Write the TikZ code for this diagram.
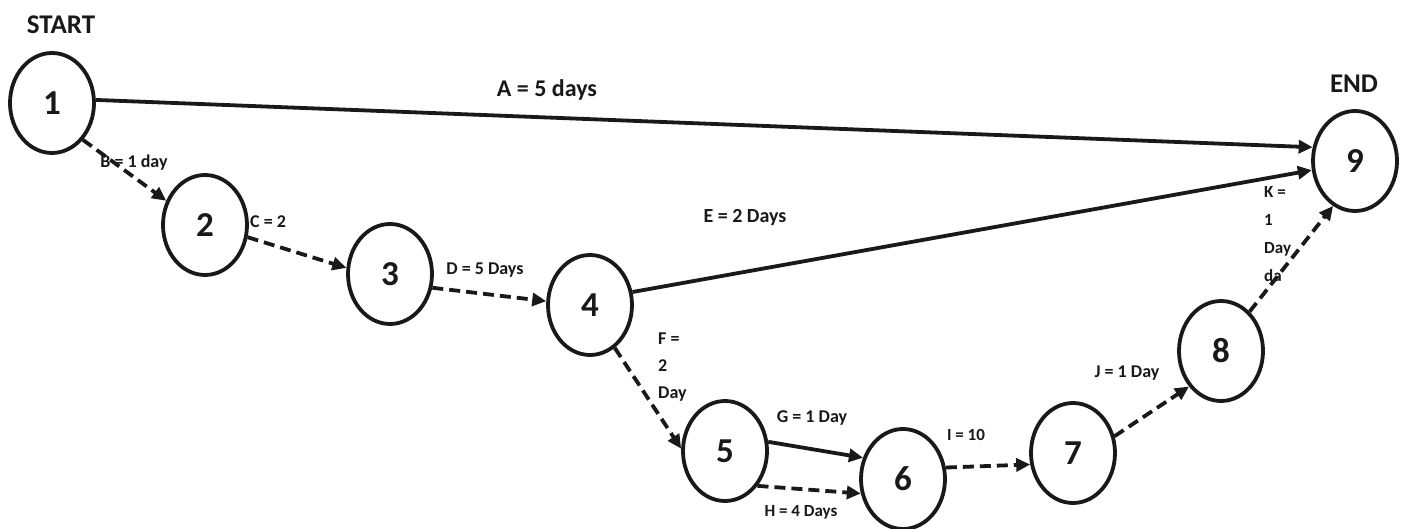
\documentclass[tikz,border=0pt]{standalone}
\usepackage{fontspec}
\setmainfont{Carlito}
\usetikzlibrary{shapes.geometric,arrows.meta}
\begin{document}
\begin{tikzpicture}[x=1pt,y=-1pt,
  evt/.style={ellipse,draw=black!90,line width=3.8pt,minimum width=84pt,minimum height=100pt,inner sep=0pt,font=\fontsize{35}{40}\selectfont\bfseries,text=black!90},
  act/.style={line width=3.8pt,draw=black!90,-{Triangle[length=14pt,width=13pt]}},
  dact/.style={act,dash pattern=on 11pt off 6pt},
  lbl/.style={inner sep=0pt,font=\fontsize{18}{21}\selectfont\bfseries,text=black!90},
  ttl/.style={inner sep=0pt,font=\fontsize{27}{30}\selectfont\bfseries,text=black!90}]
\useasboundingbox[fill=white] (0,0) rectangle (1406,529);
% events
\node[evt] (n1) at (52,103) {1};
\node[evt] (n2) at (205,225) {2};
\node[evt] (n3) at (390,274) {3};
\node[evt] (n4) at (590,305) {4};
\node[evt] (n5) at (725,451) {5};
\node[evt] (n6) at (903,479) {6};
\node[evt] (n7) at (1073,453) {7};
\node[evt] (n8) at (1221,351) {8};
\node[evt] (n9) at (1355,161) {9};
% titles
\node[ttl] (start) at (61,25) {START};
\node[ttl] (end) at (1354,84) {END};
% activities
\draw[act]  (n1.4)   -- (n9.162);
\draw[dact] (n1.-50) -- (n2.148);
\draw[dact] (n2.-16) -- (n3.172);
\draw[dact] (n3.-18) -- (n4.175);
\draw[act]  (n4.17)  -- (n9.192);
\draw[dact] (n4.-60) -- (n5.177);
\draw[act]  (n5.12)  -- (n6.152);
\draw[dact] (n5.-47) -- (n6.199);
\draw[dact] (n6.15)  -- (n7.195);
\draw[dact] (n7.22)  -- (n8.228);
\draw[dact] (n8.54)  -- (n9.244);
% labels
\node[lbl,font=\fontsize{24}{28}\selectfont\bfseries] (la) at (547,90) {A = 5 days};
\node[lbl] (lb) at (134,163) {B = 1 day};
\node[lbl,anchor=west] (lc) at (250,222) {C = 2};
\node[lbl] (ld) at (485,270) {D = 5 Days};
\node[lbl,font=\fontsize{20}{24}\selectfont\bfseries] (le) at (745,218) {E = 2 Days};
\node[lbl,anchor=north west,align=left,font=\fontsize{18}{27}\selectfont\bfseries] (lf) at (658,333) {F =\\2\\Day};
\node[lbl] (lg) at (812,418) {G = 1 Day};
\node[lbl,font=\fontsize{17}{20}\selectfont\bfseries] (lh) at (801,512) {H = 4 Days};
\node[lbl,font=\fontsize{17}{20}\selectfont\bfseries] (li) at (966,435) {I = 10};
\node[lbl] (lj) at (1127,373) {J = 1 Day};
\node[lbl,anchor=north west,align=left,font=\fontsize{17}{28}\selectfont\bfseries] (lk) at (1264,186) {K =\\1\\Day\\da};
\end{tikzpicture}
\end{document}
